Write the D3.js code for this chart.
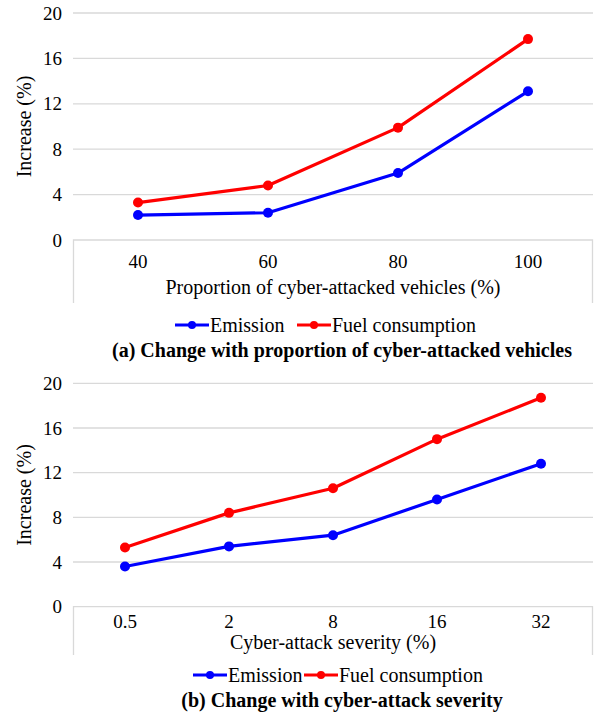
<!DOCTYPE html>
<html>
<head>
<style>
  body { margin: 0; background: #fff; }
  .grid line { stroke: #d9d9d9; stroke-width: 1.3; }
</style>
</head>
<body>
<svg width="596" height="715" font-family="'Liberation Serif', 'Times New Roman', Times, 'DejaVu Serif', serif"></svg>
<script src="https://d3js.org/d3.v7.min.js"></script>
<script>
// panel (a): proportion of cyber-attacked vehicles
var catsA = ["40", "60", "80", "100"];
var emissionA = [2.2, 2.4, 5.9, 13.1];
var fuelA = [3.3, 4.8, 9.9, 17.7];

// panel (b): cyber-attack severity
var catsB = ["0.5", "2", "8", "16", "32"];
var emissionB = [3.6, 5.4, 6.4, 9.6, 12.8];
var fuelB = [5.3, 8.4, 10.6, 15.0, 18.7];

var yTicks = [0, 4, 8, 12, 16, 20];
var seriesNames = ["Emission", "Fuel consumption"];
var colors = ["#0000ff", "#ff0000"];

var svg = d3.select("svg");

function panel(opt) {
  var g = svg.append("g");
  var x = d3.scaleBand().domain(opt.cats).range([73, 593]);
  var y = d3.scaleLinear().domain([0, 20]).range([opt.bottom, opt.top]);

  // gridlines
  g.append("g").attr("class", "grid")
    .selectAll("line").data(yTicks.slice(1)).join("line")
    .attr("x1", 73).attr("x2", 593)
    .attr("y1", d => y(d)).attr("y2", d => y(d));

  // axis box (bottom line + edge lines)
  g.append("path")
    .attr("d", "M73.5," + opt.boxBottom + "V" + y(0) + "H592.5V" + opt.boxBottom)
    .attr("fill", "none").attr("stroke", "#d9d9d9").attr("stroke-width", 1.3);

  // y tick labels
  g.selectAll(".ytick").data(yTicks).join("text")
    .attr("class", "ytick")
    .attr("x", 62).attr("y", d => y(d)).attr("dy", "0.35em")
    .attr("text-anchor", "end").attr("font-size", 19)
    .text(d => d);

  // y title
  g.append("text")
    .attr("transform", "translate(31," + (opt.top + opt.bottom) / 2 + ") rotate(-90)")
    .attr("text-anchor", "middle").attr("font-size", 20)
    .text("Increase (%)");

  // x tick labels
  g.selectAll(".xtick").data(opt.cats).join("text")
    .attr("class", "xtick")
    .attr("x", d => x(d) + x.bandwidth() / 2).attr("y", opt.xTickY)
    .attr("text-anchor", "middle").attr("font-size", 19)
    .text(d => d);

  // x title
  g.append("text")
    .attr("x", 333).attr("y", opt.xTitleY)
    .attr("text-anchor", "middle").attr("font-size", 20)
    .text(opt.xTitle);

  // lines + markers
  var line = d3.line().x((d, i) => x(opt.cats[i]) + x.bandwidth() / 2).y(d => y(d));
  opt.series.forEach(function (vals, s) {
    g.append("path").datum(vals)
      .attr("d", line).attr("fill", "none")
      .attr("stroke", colors[s]).attr("stroke-width", 3.2)
      .attr("stroke-linejoin", "round");
    g.selectAll(".pt" + s).data(vals).join("circle")
      .attr("class", "pt" + s)
      .attr("cx", (d, i) => x(opt.cats[i]) + x.bandwidth() / 2)
      .attr("cy", d => y(d)).attr("r", 5).attr("fill", colors[s]);
  });

  // legend
  var lg = g.append("g").selectAll("g").data(seriesNames).join("g")
    .attr("transform", (d, i) => "translate(" + opt.legendX[i] + "," + opt.legendY + ")");
  lg.append("line").attr("x1", 0).attr("x2", 34)
    .attr("stroke", (d, i) => colors[i]).attr("stroke-width", 3);
  lg.append("circle").attr("cx", 17).attr("r", 4).attr("fill", (d, i) => colors[i]);
  lg.append("text").attr("x", 35).attr("dy", "0.35em").attr("font-size", 20)
    .text(d => d);

  // caption
  g.append("text")
    .attr("x", opt.captionX).attr("y", opt.captionY)
    .attr("text-anchor", "middle").attr("font-size", 20).attr("font-weight", "bold")
    .text(opt.caption);
}

panel({
  cats: catsA, series: [emissionA, fuelA],
  top: 13, bottom: 240, boxBottom: 303,
  xTickY: 268, xTitleY: 294, xTitle: "Proportion of cyber-attacked vehicles (%)",
  legendX: [175, 297], legendY: 325,
  captionX: 342, captionY: 357, caption: "(a) Change with proportion of cyber-attacked vehicles"
});

panel({
  cats: catsB, series: [emissionB, fuelB],
  top: 383.3, bottom: 606.7, boxBottom: 655,
  xTickY: 628, xTitleY: 649, xTitle: "Cyber-attack severity (%)",
  legendX: [193, 304], legendY: 675,
  captionX: 342, captionY: 707, caption: "(b) Change with cyber-attack severity"
});
</script>
</body>
</html>
